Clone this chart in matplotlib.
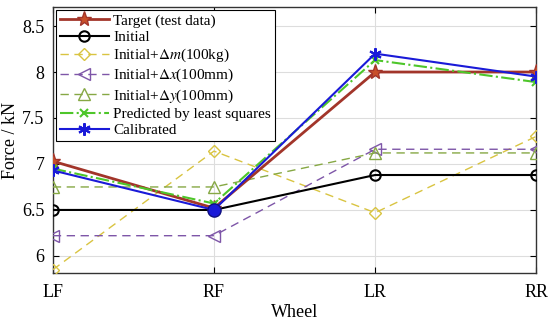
import matplotlib
matplotlib.use("Agg")
from matplotlib import pyplot as plt
from matplotlib.ticker import FormatStrFormatter
import numpy as np

plt.rcParams['font.family'] = ['Liberation Serif', 'DejaVu Serif']
plt.rcParams['mathtext.fontset'] = 'stix'

wheels = ['LF', 'RF', 'LR', 'RR']
target = [7.03, 6.52, 8.00, 8.00]
initial = [6.50, 6.50, 6.88, 6.88]
init_dm = [5.85, 7.14, 6.47, 7.30]
init_dx = [6.22, 6.22, 7.16, 7.16]
init_dy = [6.75, 6.75, 7.12, 7.12]
predicted = [6.95, 6.57, 8.13, 7.89]
calibrated = [6.93, 6.50, 8.20, 7.95]

x = np.arange(len(wheels))

fig = plt.figure(figsize=(5.5, 3.23), dpi=100)
ax = fig.add_axes([0.096, 0.155, 0.879, 0.823])

ax.plot(x, target, color='#A2352A', lw=2, marker='*', ms=11,
        mfc='#C8502A', mec='#A2352A', label='Target (test data)', zorder=5)
ax.plot(x, initial, color='black', lw=1.5, marker='o', ms=7.5, mfc='none',
        mew=1.5, label='Initial', zorder=4)
ax.plot(x, init_dm, color='#D9C441', lw=1, ls=(0, (6, 4)), marker='D', ms=6.5,
        mfc='none', mew=1, label=r'Initial+$\Delta m$(100kg)', zorder=3)
ax.plot(x, init_dx, color='#7E56A8', lw=1, ls=(0, (6, 4)), marker='<', ms=8,
        mfc='none', mew=1, label=r'Initial+$\Delta x$(100mm)', zorder=3)
ax.plot(x, init_dy, color='#86A844', lw=1, ls=(0, (6, 4)), marker='^', ms=8,
        mfc='none', mew=1, label=r'Initial+$\Delta y$(100mm)', zorder=3)
ax.plot(x, predicted, color='#4EC62A', lw=1.5, ls='-.', marker='x', ms=6,
        mew=1.5, label='Predicted by least squares', zorder=6)
ax.plot(x, calibrated, color='#1A1AD8', lw=1.5, marker=(6, 2, 0), ms=9,
        mew=1.5, label='Calibrated', zorder=7)
# filled marker at the RF calibration point
ax.scatter(x[1], calibrated[1], s=90, color='#1A1AD8', edgecolor='#101080',
           zorder=9)

ax.set_xlim(0, 3)
ax.set_ylim(5.815, 8.706)
ax.set_xticks(x)
ax.set_xticklabels(wheels)
ax.set_yticks([6, 6.5, 7, 7.5, 8, 8.5])
ax.yaxis.set_major_formatter(FormatStrFormatter('%g'))
ax.tick_params(direction='in', labelsize=13, length=4, top=True, right=True)
ax.tick_params(axis='x', pad=8)
ax.tick_params(axis='y', pad=6)
ax.grid(True, color='#DDDDDD', lw=0.8)
for s in ax.spines.values():
    s.set_color('#333333')
    s.set_linewidth(1)
ax.set_xlabel('Wheel', fontsize=13, labelpad=2)
ax.set_ylabel('Force / kN', fontsize=13, labelpad=2)

leg = ax.legend(loc='upper left', fontsize=11, frameon=True,
                fancybox=False, edgecolor='black', framealpha=1,
                borderpad=0.25, labelspacing=0.18, handlelength=3.2,
                handletextpad=0.3, borderaxespad=0.2)
leg.get_frame().set_linewidth(0.8)

fig.savefig('out.png', dpi=100)
